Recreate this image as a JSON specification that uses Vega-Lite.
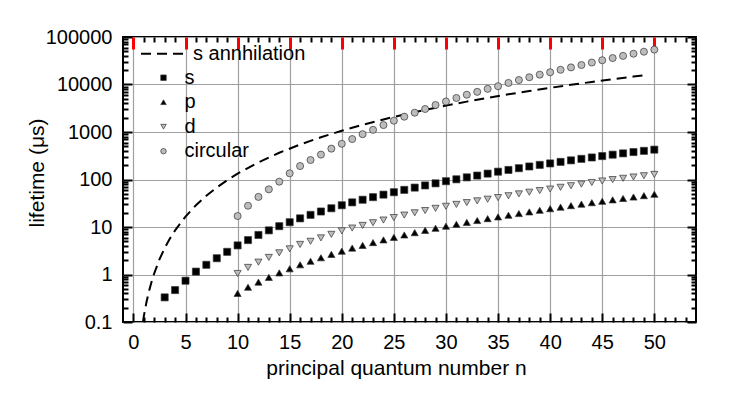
{
  "$schema": "https://vega.github.io/schema/vega-lite/v6.json",
  "width": 573,
  "height": 285,
  "autosize": {"type": "none"},
  "padding": {"left": 123, "top": 37, "right": 47, "bottom": 88},
  "background": "white",
  "config": {
    "font": "Liberation Sans",
    "view": {"stroke": "black", "strokeWidth": 2},
    "legend": {"padding": 0, "labelFont": "Liberation Sans", "labelFontSize": 20, "labelColor": "black", "title": null},
    "axis": {"domain": false, "labelFlush": false, "labelOverlap": false}
  },
  "datasets": {
    "line": [
      {"n": 0.92, "tau": 0.1, "curve": "s annhilation"},
      {"n": 1, "tau": 0.133, "curve": "s annhilation"},
      {"n": 1.25, "tau": 0.26, "curve": "s annhilation"},
      {"n": 1.5, "tau": 0.45, "curve": "s annhilation"},
      {"n": 1.75, "tau": 0.71, "curve": "s annhilation"},
      {"n": 2, "tau": 1.06, "curve": "s annhilation"},
      {"n": 2.5, "tau": 2.08, "curve": "s annhilation"},
      {"n": 3, "tau": 3.6, "curve": "s annhilation"},
      {"n": 3.5, "tau": 5.7, "curve": "s annhilation"},
      {"n": 4, "tau": 8.5, "curve": "s annhilation"},
      {"n": 5, "tau": 16.6, "curve": "s annhilation"},
      {"n": 6, "tau": 28.7, "curve": "s annhilation"},
      {"n": 7, "tau": 45.6, "curve": "s annhilation"},
      {"n": 8, "tau": 68, "curve": "s annhilation"},
      {"n": 9, "tau": 97, "curve": "s annhilation"},
      {"n": 10, "tau": 133, "curve": "s annhilation"},
      {"n": 12, "tau": 230, "curve": "s annhilation"},
      {"n": 14, "tau": 365, "curve": "s annhilation"},
      {"n": 16, "tau": 545, "curve": "s annhilation"},
      {"n": 18, "tau": 776, "curve": "s annhilation"},
      {"n": 20, "tau": 1064, "curve": "s annhilation"},
      {"n": 22, "tau": 1416, "curve": "s annhilation"},
      {"n": 24, "tau": 1839, "curve": "s annhilation"},
      {"n": 26, "tau": 2338, "curve": "s annhilation"},
      {"n": 28, "tau": 2920, "curve": "s annhilation"},
      {"n": 30, "tau": 3591, "curve": "s annhilation"},
      {"n": 32, "tau": 4358, "curve": "s annhilation"},
      {"n": 34, "tau": 5227, "curve": "s annhilation"},
      {"n": 36, "tau": 6205, "curve": "s annhilation"},
      {"n": 38, "tau": 7298, "curve": "s annhilation"},
      {"n": 40, "tau": 8512, "curve": "s annhilation"},
      {"n": 42, "tau": 9854, "curve": "s annhilation"},
      {"n": 44, "tau": 11330, "curve": "s annhilation"},
      {"n": 46, "tau": 12947, "curve": "s annhilation"},
      {"n": 48, "tau": 14709, "curve": "s annhilation"},
      {"n": 49.3, "tau": 15937, "curve": "s annhilation"}
    ],
    "points": [
      {"n": 3, "state": "s", "tau": 0.33}, {"n": 4, "state": "s", "tau": 0.47}, {"n": 5, "state": "s", "tau": 0.74},
      {"n": 6, "state": "s", "tau": 1.15}, {"n": 7, "state": "s", "tau": 1.6}, {"n": 8, "state": "s", "tau": 2.2},
      {"n": 9, "state": "s", "tau": 3.0}, {"n": 10, "state": "s", "tau": 4.1}, {"n": 11, "state": "s", "tau": 5.3},
      {"n": 12, "state": "s", "tau": 6.8}, {"n": 13, "state": "s", "tau": 8.5}, {"n": 14, "state": "s", "tau": 10.4},
      {"n": 15, "state": "s", "tau": 12.6}, {"n": 16, "state": "s", "tau": 15.2}, {"n": 17, "state": "s", "tau": 18.0},
      {"n": 18, "state": "s", "tau": 21.2}, {"n": 19, "state": "s", "tau": 24.8}, {"n": 20, "state": "s", "tau": 28.7},
      {"n": 21, "state": "s", "tau": 33}, {"n": 22, "state": "s", "tau": 37.5}, {"n": 23, "state": "s", "tau": 42.5},
      {"n": 24, "state": "s", "tau": 48}, {"n": 25, "state": "s", "tau": 54}, {"n": 26, "state": "s", "tau": 60.5},
      {"n": 27, "state": "s", "tau": 67.5}, {"n": 28, "state": "s", "tau": 75}, {"n": 29, "state": "s", "tau": 83},
      {"n": 30, "state": "s", "tau": 92}, {"n": 31, "state": "s", "tau": 101}, {"n": 32, "state": "s", "tau": 111},
      {"n": 33, "state": "s", "tau": 121}, {"n": 34, "state": "s", "tau": 133}, {"n": 35, "state": "s", "tau": 146},
      {"n": 36, "state": "s", "tau": 159}, {"n": 37, "state": "s", "tau": 173}, {"n": 38, "state": "s", "tau": 188},
      {"n": 39, "state": "s", "tau": 203}, {"n": 40, "state": "s", "tau": 218}, {"n": 41, "state": "s", "tau": 235},
      {"n": 42, "state": "s", "tau": 253}, {"n": 43, "state": "s", "tau": 272}, {"n": 44, "state": "s", "tau": 291},
      {"n": 45, "state": "s", "tau": 311}, {"n": 46, "state": "s", "tau": 333}, {"n": 47, "state": "s", "tau": 355},
      {"n": 48, "state": "s", "tau": 378}, {"n": 49, "state": "s", "tau": 401}, {"n": 50, "state": "s", "tau": 425},

      {"n": 10, "state": "p", "tau": 0.40}, {"n": 11, "state": "p", "tau": 0.54}, {"n": 12, "state": "p", "tau": 0.69},
      {"n": 13, "state": "p", "tau": 0.87}, {"n": 14, "state": "p", "tau": 1.08}, {"n": 15, "state": "p", "tau": 1.32},
      {"n": 16, "state": "p", "tau": 1.6}, {"n": 17, "state": "p", "tau": 1.9}, {"n": 18, "state": "p", "tau": 2.25},
      {"n": 19, "state": "p", "tau": 2.65}, {"n": 20, "state": "p", "tau": 3.1}, {"n": 21, "state": "p", "tau": 3.6},
      {"n": 22, "state": "p", "tau": 4.1}, {"n": 23, "state": "p", "tau": 4.7}, {"n": 24, "state": "p", "tau": 5.35},
      {"n": 25, "state": "p", "tau": 6.05}, {"n": 26, "state": "p", "tau": 6.8}, {"n": 27, "state": "p", "tau": 7.6},
      {"n": 28, "state": "p", "tau": 8.5}, {"n": 29, "state": "p", "tau": 9.4}, {"n": 30, "state": "p", "tau": 10.4},
      {"n": 31, "state": "p", "tau": 11.4}, {"n": 32, "state": "p", "tau": 12.5}, {"n": 33, "state": "p", "tau": 13.7},
      {"n": 34, "state": "p", "tau": 15.0}, {"n": 35, "state": "p", "tau": 16.3}, {"n": 36, "state": "p", "tau": 17.7},
      {"n": 37, "state": "p", "tau": 19.2}, {"n": 38, "state": "p", "tau": 20.8}, {"n": 39, "state": "p", "tau": 22.5},
      {"n": 40, "state": "p", "tau": 24.3}, {"n": 41, "state": "p", "tau": 26.2}, {"n": 42, "state": "p", "tau": 28.2},
      {"n": 43, "state": "p", "tau": 30.3}, {"n": 44, "state": "p", "tau": 32.5}, {"n": 45, "state": "p", "tau": 34.8},
      {"n": 46, "state": "p", "tau": 37.3}, {"n": 47, "state": "p", "tau": 39.9}, {"n": 48, "state": "p", "tau": 42.7},
      {"n": 49, "state": "p", "tau": 45.7}, {"n": 50, "state": "p", "tau": 48.9},

      {"n": 10, "state": "d", "tau": 1.05}, {"n": 11, "state": "d", "tau": 1.41}, {"n": 12, "state": "d", "tau": 1.82},
      {"n": 13, "state": "d", "tau": 2.29}, {"n": 14, "state": "d", "tau": 2.86}, {"n": 15, "state": "d", "tau": 3.47},
      {"n": 16, "state": "d", "tau": 4.3}, {"n": 17, "state": "d", "tau": 5.0}, {"n": 18, "state": "d", "tau": 5.9},
      {"n": 19, "state": "d", "tau": 7.0}, {"n": 20, "state": "d", "tau": 8.3}, {"n": 21, "state": "d", "tau": 9.5},
      {"n": 22, "state": "d", "tau": 10.8}, {"n": 23, "state": "d", "tau": 12.3}, {"n": 24, "state": "d", "tau": 14.0},
      {"n": 25, "state": "d", "tau": 15.8}, {"n": 26, "state": "d", "tau": 17.8}, {"n": 27, "state": "d", "tau": 19.9},
      {"n": 28, "state": "d", "tau": 22.2}, {"n": 29, "state": "d", "tau": 24.7}, {"n": 30, "state": "d", "tau": 27.3},
      {"n": 31, "state": "d", "tau": 29.9}, {"n": 32, "state": "d", "tau": 32.6}, {"n": 33, "state": "d", "tau": 35.5},
      {"n": 34, "state": "d", "tau": 38.5}, {"n": 35, "state": "d", "tau": 41.6}, {"n": 36, "state": "d", "tau": 45.5},
      {"n": 37, "state": "d", "tau": 49.8}, {"n": 38, "state": "d", "tau": 54}, {"n": 39, "state": "d", "tau": 58.5},
      {"n": 40, "state": "d", "tau": 63}, {"n": 41, "state": "d", "tau": 68.5}, {"n": 42, "state": "d", "tau": 74},
      {"n": 43, "state": "d", "tau": 80}, {"n": 44, "state": "d", "tau": 86.5}, {"n": 45, "state": "d", "tau": 93},
      {"n": 46, "state": "d", "tau": 99.5}, {"n": 47, "state": "d", "tau": 106}, {"n": 48, "state": "d", "tau": 113},
      {"n": 49, "state": "d", "tau": 120}, {"n": 50, "state": "d", "tau": 128},

      {"n": 10, "state": "circular", "tau": 17}, {"n": 11, "state": "circular", "tau": 28}, {"n": 12, "state": "circular", "tau": 43},
      {"n": 13, "state": "circular", "tau": 62}, {"n": 14, "state": "circular", "tau": 90}, {"n": 15, "state": "circular", "tau": 135},
      {"n": 16, "state": "circular", "tau": 192}, {"n": 17, "state": "circular", "tau": 257}, {"n": 18, "state": "circular", "tau": 334},
      {"n": 19, "state": "circular", "tau": 446}, {"n": 20, "state": "circular", "tau": 565}, {"n": 21, "state": "circular", "tau": 710},
      {"n": 22, "state": "circular", "tau": 900}, {"n": 23, "state": "circular", "tau": 1110}, {"n": 24, "state": "circular", "tau": 1400},
      {"n": 25, "state": "circular", "tau": 1730}, {"n": 26, "state": "circular", "tau": 2100}, {"n": 27, "state": "circular", "tau": 2550},
      {"n": 28, "state": "circular", "tau": 3050}, {"n": 29, "state": "circular", "tau": 3700}, {"n": 30, "state": "circular", "tau": 4390},
      {"n": 31, "state": "circular", "tau": 5200}, {"n": 32, "state": "circular", "tau": 6100}, {"n": 33, "state": "circular", "tau": 7000},
      {"n": 34, "state": "circular", "tau": 8100}, {"n": 35, "state": "circular", "tau": 9200}, {"n": 36, "state": "circular", "tau": 10800},
      {"n": 37, "state": "circular", "tau": 12400}, {"n": 38, "state": "circular", "tau": 14200}, {"n": 39, "state": "circular", "tau": 16100},
      {"n": 40, "state": "circular", "tau": 18100}, {"n": 41, "state": "circular", "tau": 20400}, {"n": 42, "state": "circular", "tau": 22900},
      {"n": 43, "state": "circular", "tau": 25700}, {"n": 44, "state": "circular", "tau": 29000}, {"n": 45, "state": "circular", "tau": 32400},
      {"n": 46, "state": "circular", "tau": 36000}, {"n": 47, "state": "circular", "tau": 40000}, {"n": 48, "state": "circular", "tau": 44500},
      {"n": 49, "state": "circular", "tau": 49000}, {"n": 50, "state": "circular", "tau": 54300}
    ]
  },
  "layer": [
    {
      "data": {"name": "line"},
      "mark": {"type": "line", "color": "black", "strokeWidth": 2, "clip": true},
      "encoding": {
        "x": {
          "field": "n", "type": "quantitative",
          "scale": {"domain": [-1, 54], "nice": false, "zero": false},
          "axis": {
            "orient": "bottom",
            "title": "principal quantum number n",
            "values": [0, 5, 10, 15, 20, 25, 30, 35, 40, 45, 50],
            "ticks": true, "tickSize": -9, "tickColor": "black", "tickWidth": 2,
            "grid": true, "gridColor": "#a0a0a0", "gridWidth": 1.2,
            "labelFont": "Liberation Sans", "labelFontSize": 20, "labelColor": "black", "labelPadding": 19,
            "titleFont": "Liberation Sans", "titleFontSize": 21, "titleFontWeight": "normal", "titleColor": "black",
            "titleX": 273, "titleY": 52, "titleBaseline": "alphabetic", "titleAlign": "center"
          }
        },
        "y": {
          "field": "tau", "type": "quantitative",
          "scale": {"type": "log", "domain": [0.1, 100000], "nice": false},
          "axis": {
            "orient": "left",
            "title": "lifetime (μs)",
            "values": [0.1, 1, 10, 100, 1000, 10000, 100000],
            "format": "~g",
            "ticks": true, "tickSize": -9, "tickColor": "black", "tickWidth": 2,
            "grid": true, "gridColor": "#a0a0a0", "gridWidth": 1.2,
            "labelFont": "Liberation Sans", "labelFontSize": 20, "labelColor": "black", "labelPadding": 20,
            "titleFont": "Liberation Sans", "titleFontSize": 21, "titleFontWeight": "normal", "titleColor": "black",
            "titleX": -80, "titleY": 135.5, "titleAngle": -90, "titleBaseline": "alphabetic", "titleAlign": "center"
          }
        },
        "strokeDash": {
          "field": "curve", "type": "nominal",
          "scale": {"domain": ["s annhilation"], "range": [[10, 6]]},
          "legend": {
            "orient": "none", "legendX": 17, "legendY": -8.3,
            "symbolType": "stroke", "symbolSize": 2304, "symbolStrokeWidth": 2, "symbolStrokeColor": "black",
            "labelOffset": 3
          }
        }
      }
    },
    {
      "data": {"name": "points"},
      "transform": [{"filter": "datum.state === 's'"}],
      "mark": {"type": "point", "filled": true, "size": 50, "stroke": "#333333", "strokeWidth": 0.7, "opacity": 1},
      "encoding": {
        "x": {
          "field": "n", "type": "quantitative",
          "axis": {"orient": "top", "title": null, "labels": false, "grid": false, "ticks": true, "values": [0, 5, 10, 15, 20, 25, 30, 35, 40, 45, 50], "tickSize": -12, "tickColor": "red", "tickWidth": 3}
        },
        "y": {
          "field": "tau", "type": "quantitative",
          "axis": {"orient": "right", "title": null, "labels": false, "grid": false, "ticks": true, "values": [0.1, 1, 10, 100, 1000, 10000, 100000], "tickSize": -9, "tickColor": "black", "tickWidth": 2}
        },
        "shape": {
          "field": "state", "type": "nominal",
          "scale": {"domain": ["s", "p", "d", "circular"], "range": ["square", "triangle-up", "triangle-down", "circle"]},
          "legend": {"orient": "none", "legendX": 30.5, "legendY": 30.7, "symbolSize": 30, "labelOffset": 11, "rowPadding": 4.5, "symbolStrokeWidth": 0.7}
        },
        "fill": {
          "field": "state", "type": "nominal",
          "scale": {"domain": ["s", "p", "d", "circular"], "range": ["#000000", "#000000", "#bdbdbd", "#bdbdbd"]}
        }
      }
    },
    {
      "data": {"name": "points"},
      "transform": [{"filter": "datum.state === 'p'"}],
      "mark": {"type": "point", "filled": true, "size": 50, "stroke": "#333333", "strokeWidth": 0.7, "opacity": 1},
      "encoding": {
        "x": {
          "field": "n", "type": "quantitative",
          "axis": {"orient": "bottom", "title": null, "labels": false, "grid": false, "ticks": true, "values": [1,2,3,4,6,7,8,9,11,12,13,14,16,17,18,19,21,22,23,24,26,27,28,29,31,32,33,34,36,37,38,39,41,42,43,44,46,47,48,49,51,52,53], "tickSize": -5, "tickColor": "black", "tickWidth": 2}
        },
        "y": {
          "field": "tau", "type": "quantitative",
          "axis": {"orient": "left", "title": null, "labels": false, "grid": false, "ticks": true, "values": [0.2,0.3,0.4,0.5,0.6,0.7,0.8,0.9,2,3,4,5,6,7,8,9,20,30,40,50,60,70,80,90,200,300,400,500,600,700,800,900,2000,3000,4000,5000,6000,7000,8000,9000,20000,30000,40000,50000,60000,70000,80000,90000], "tickSize": -5, "tickColor": "black", "tickWidth": 2}
        },
        "shape": {
          "field": "state", "type": "nominal",
          "scale": {"domain": ["s", "p", "d", "circular"], "range": ["square", "triangle-up", "triangle-down", "circle"]},
          "legend": {"orient": "none", "legendX": 30.5, "legendY": 30.7, "symbolSize": 30, "labelOffset": 11, "rowPadding": 4.5, "symbolStrokeWidth": 0.7}
        },
        "fill": {
          "field": "state", "type": "nominal",
          "scale": {"domain": ["s", "p", "d", "circular"], "range": ["#000000", "#000000", "#bdbdbd", "#bdbdbd"]}
        }
      }
    },
    {
      "data": {"name": "points"},
      "transform": [{"filter": "datum.state === 'd'"}],
      "mark": {"type": "point", "filled": true, "size": 50, "stroke": "#333333", "strokeWidth": 0.7, "opacity": 1},
      "encoding": {
        "x": {
          "field": "n", "type": "quantitative",
          "axis": {"orient": "top", "title": null, "labels": false, "grid": false, "ticks": true, "values": [1,2,3,4,6,7,8,9,11,12,13,14,16,17,18,19,21,22,23,24,26,27,28,29,31,32,33,34,36,37,38,39,41,42,43,44,46,47,48,49,51,52,53], "tickSize": -5, "tickColor": "black", "tickWidth": 2}
        },
        "y": {
          "field": "tau", "type": "quantitative",
          "axis": {"orient": "right", "title": null, "labels": false, "grid": false, "ticks": true, "values": [0.2,0.3,0.4,0.5,0.6,0.7,0.8,0.9,2,3,4,5,6,7,8,9,20,30,40,50,60,70,80,90,200,300,400,500,600,700,800,900,2000,3000,4000,5000,6000,7000,8000,9000,20000,30000,40000,50000,60000,70000,80000,90000], "tickSize": -5, "tickColor": "black", "tickWidth": 2}
        },
        "shape": {
          "field": "state", "type": "nominal",
          "scale": {"domain": ["s", "p", "d", "circular"], "range": ["square", "triangle-up", "triangle-down", "circle"]},
          "legend": {"orient": "none", "legendX": 30.5, "legendY": 30.7, "symbolSize": 30, "labelOffset": 11, "rowPadding": 4.5, "symbolStrokeWidth": 0.7}
        },
        "fill": {
          "field": "state", "type": "nominal",
          "scale": {"domain": ["s", "p", "d", "circular"], "range": ["#000000", "#000000", "#bdbdbd", "#bdbdbd"]}
        }
      }
    },
    {
      "data": {"name": "points"},
      "transform": [{"filter": "datum.state === 'circular'"}],
      "mark": {"type": "point", "filled": true, "size": 50, "stroke": "#333333", "strokeWidth": 0.7, "opacity": 1},
      "encoding": {
        "x": {"field": "n", "type": "quantitative", "axis": null},
        "y": {"field": "tau", "type": "quantitative", "axis": null},
        "shape": {
          "field": "state", "type": "nominal",
          "scale": {"domain": ["s", "p", "d", "circular"], "range": ["square", "triangle-up", "triangle-down", "circle"]},
          "legend": {"orient": "none", "legendX": 30.5, "legendY": 30.7, "symbolSize": 30, "labelOffset": 11, "rowPadding": 4.5, "symbolStrokeWidth": 0.7}
        },
        "fill": {
          "field": "state", "type": "nominal",
          "scale": {"domain": ["s", "p", "d", "circular"], "range": ["#000000", "#000000", "#bdbdbd", "#bdbdbd"]}
        }
      }
    }
  ],
  "resolve": {"axis": {"x": "independent", "y": "independent"}}
}
